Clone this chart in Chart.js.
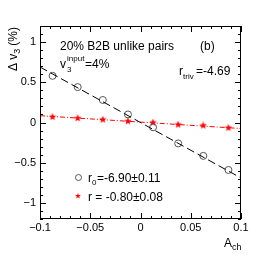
<!DOCTYPE html>
<html>
<head>
<meta charset="utf-8">
<script src="https://cdn.jsdelivr.net/npm/chart.js@4.4.1/dist/chart.umd.min.js"></script>
<style>
  html, body { margin: 0; padding: 0; background: #fff; }
  #wrap { width: 268px; height: 258px; }
</style>
</head>
<body>
<div id="wrap"><canvas id="chart" width="268" height="258"></canvas></div>
<script>
// Values
const achBins = [-0.0875, -0.0625, -0.0375, -0.0125, 0.0125, 0.0375, 0.0625, 0.0875];
const dv3Open = [0.58, 0.44, 0.28, 0.10, -0.06, -0.26, -0.415, -0.59];
const dv3Star = [0.07, 0.054, 0.037, 0.017, 0.0, -0.025, -0.037, -0.065];
const fitX = [-0.1, 0.1];
const fitOpen = [0.69, -0.69];
const fitStar = [0.085, -0.075];

const xMajorTicks = [-0.1, -0.05, 0, 0.05, 0.1];
const xTickLabels = ['\u22120.1', '\u22120.05', '0', '0.05', '0.1'];
const yMajorTicks = [-1, -0.5, 0, 0.5, 1];
const yTickLabels = ['\u22121', '\u22120.5', '0', '0.5', '1'];

const FONT = 'Liberation Sans, Arial, sans-serif';

function toPts(xs, ys) {
    return xs.map((x, i) => ({ x: x, y: ys[i] }));
}

// filled star marker (like ROOT marker 29)
function makeStar(size, color) {
    const c = document.createElement('canvas');
    c.width = size; c.height = size;
    const g = c.getContext('2d');
    const cx = size / 2, cy = size / 2, R = size / 2, r = R * 0.42;
    g.beginPath();
    for (let i = 0; i < 10; i++) {
        const a = -Math.PI / 2 + i * Math.PI / 5;
        const rr = i % 2 === 0 ? R : r;
        g.lineTo(cx + rr * Math.cos(a), cy + rr * Math.sin(a));
    }
    g.closePath();
    g.fillStyle = color;
    g.fill();
    return c;
}
const starImg = makeStar(8, '#ff0000');

// frame, inward ticks, labels and text, ROOT style
const framePlugin = {
    id: 'frame',
    afterDraw(chart) {
        const ctx = chart.ctx;
        const xs = chart.scales.x, ys = chart.scales.y;
        const a = chart.chartArea;
        ctx.save();
        ctx.strokeStyle = '#000';
        ctx.lineWidth = 1;
        ctx.strokeRect(a.left + 0.5, a.top + 0.5, a.right - a.left - 1, a.bottom - a.top - 1);

        ctx.beginPath();
        // x ticks (bottom and top)
        for (let i = -10; i <= 10; i++) {
            const v = i / 100;
            const px = Math.round(xs.getPixelForValue(v)) + 0.5;
            const len = (i % 5 === 0) ? 6 : 3;
            ctx.moveTo(px, a.bottom); ctx.lineTo(px, a.bottom - len);
            ctx.moveTo(px, a.top); ctx.lineTo(px, a.top + len);
        }
        // y ticks (left and right)
        for (let i = -12; i <= 12; i++) {
            const v = i / 10;
            const py = Math.round(ys.getPixelForValue(v)) + 0.5;
            const len = (i % 5 === 0) ? 6 : 3;
            ctx.moveTo(a.left, py); ctx.lineTo(a.left + len, py);
            ctx.moveTo(a.right, py); ctx.lineTo(a.right - len, py);
        }
        ctx.stroke();

        ctx.fillStyle = '#000';
        ctx.font = '11px ' + FONT;
        ctx.textAlign = 'center';
        ctx.textBaseline = 'top';
        xMajorTicks.forEach((v, i) => {
            ctx.fillText(xTickLabels[i], xs.getPixelForValue(v), a.bottom + 3);
        });
        ctx.textAlign = 'right';
        ctx.textBaseline = 'middle';
        yMajorTicks.forEach((v, i) => {
            ctx.fillText(yTickLabels[i], a.left - 4, ys.getPixelForValue(v));
        });

        // axis titles
        ctx.font = '12px ' + FONT;
        ctx.textAlign = 'right';
        ctx.textBaseline = 'alphabetic';
        ctx.fillText('A', 232, 247);
        ctx.font = '9px ' + FONT;
        ctx.textAlign = 'left';
        ctx.fillText('ch', 232, 250);

        ctx.save();
        ctx.translate(17, 27);
        ctx.rotate(-Math.PI / 2);
        ctx.textAlign = 'left';
        ctx.font = '12px ' + FONT;
        ctx.fillText('(%)', -ctx.measureText('(%)').width, 0);
        let w = ctx.measureText('(%)').width + 3;
        ctx.font = '9px ' + FONT;
        ctx.fillText('3', -w - ctx.measureText('3').width, 3);
        w += ctx.measureText('3').width;
        ctx.font = '12px ' + FONT;
        ctx.fillText('\u0394 v', -w - ctx.measureText('\u0394 v').width, 0);
        ctx.restore();

        // annotations
        ctx.font = '12px ' + FONT;
        ctx.textAlign = 'left';
        ctx.textBaseline = 'alphabetic';
        ctx.fillText('20% B2B unlike pairs', 60, 50);
        ctx.fillText('(b)', 200, 50);

        ctx.fillText('v', 60, 68);
        ctx.font = '8px ' + FONT;
        ctx.fillText('input', 67, 61);
        ctx.fillText('3', 67, 72);
        ctx.font = '12px ' + FONT;
        ctx.fillText('=4%', 85, 68);

        ctx.fillText('r', 179, 75);
        ctx.font = '8px ' + FONT;
        ctx.fillText('triv', 183, 79);
        ctx.font = '12px ' + FONT;
        ctx.fillText('=-4.69', 196, 75);

        // legend
        ctx.beginPath();
        ctx.strokeStyle = '#555';
        ctx.arc(78.5, 177.5, 3, 0, Math.PI * 2);
        ctx.stroke();
        ctx.drawImage(makeStar(6, '#ff0000'), 75, 193);
        ctx.fillStyle = '#000';
        ctx.font = '12px ' + FONT;
        ctx.fillText('r', 88, 182);
        ctx.font = '8px ' + FONT;
        ctx.fillText('0', 92, 185);
        ctx.font = '12px ' + FONT;
        ctx.fillText('=-6.90\u00b10.11', 97, 182);
        ctx.fillText('r = -0.80\u00b10.08', 88, 201);
        ctx.restore();
    }
};

new Chart(document.getElementById('chart').getContext('2d'), {
    type: 'scatter',
    data: {
        datasets: [
            {
                label: 'fit r0',
                type: 'line',
                data: toPts(fitX, fitOpen),
                borderColor: '#000',
                borderWidth: 1,
                borderDash: [8, 4],
                pointRadius: 0,
                fill: false
            },
            {
                label: 'fit r',
                type: 'line',
                data: toPts(fitX, fitStar),
                borderColor: '#ff0000',
                borderWidth: 1,
                borderDash: [5, 2, 1, 2],
                pointRadius: 0,
                fill: false
            },
            {
                label: 'r0',
                data: toPts(achBins, dv3Open),
                pointStyle: 'circle',
                pointRadius: 3.5,
                borderColor: '#555',
                borderWidth: 1,
                backgroundColor: 'rgba(0,0,0,0)'
            },
            {
                label: 'r',
                data: toPts(achBins, dv3Star),
                pointStyle: starImg,
                pointRadius: 4
            }
        ]
    },
    options: {
        responsive: false,
        animation: false,
        events: [],
        layout: { padding: { left: 40, right: 27, top: 26, bottom: 39 } },
        plugins: { legend: { display: false }, tooltip: { enabled: false } },
        scales: {
            x: { type: 'linear', min: -0.1, max: 0.1, display: false },
            y: { type: 'linear', min: -1.2, max: 1.2, display: false }
        }
    },
    plugins: [framePlugin]
});
</script>
</body>
</html>
